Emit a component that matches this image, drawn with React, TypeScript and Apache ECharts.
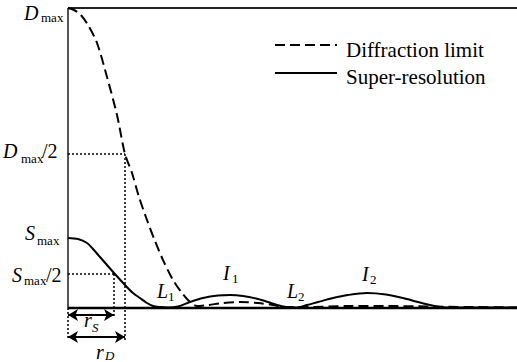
import React, { useEffect, useRef } from "react";
import * as echarts from "echarts";

// ---- data (x: radial position, y: intensity; baseline 0, D_max = 300) ----
const diffX = [0, 6, 12, 20, 29, 39, 49, 57, 64, 71, 79, 87, 95, 105, 114, 122, 129, 140, 155, 172, 190, 205, 215, 240, 280, 320, 360, 400, 449];
const diffY = [300, 298, 294, 283, 265, 231, 193, 154, 135, 111, 88, 67, 48, 28, 15, 6, 2, 3, 5, 6, 5, 3, 1, 1, 2, 2, 1.5, 1, 0.5];

const superX = [0, 10, 19, 25, 32, 39, 46, 57, 65, 72, 79, 85, 92, 100, 110, 122, 135, 150, 162, 175, 190, 200, 209, 218, 228, 239, 250, 265, 280, 299, 318, 335, 350, 362, 369, 380, 449];
const superY = [70, 69, 65, 59, 51, 43, 35, 23, 15, 10, 5, 2, 1, 0.5, 1.5, 6, 10, 12.5, 13, 12, 9, 6, 3, 1, 0.5, 3, 6, 10, 13, 15, 13.5, 10, 6, 3, 1.5, 0.5, 0.5];

const X_MAX = 449;
const Y_MAX = 300; // D_max
const Y_MIN = -54;
const D_HALF = 154;
const S_HALF = 34;
const R_S = 46;
const R_D = 57;
const ARROW_S_Y = -7;
const ARROW_D_Y = -29;

const FONT = "Liberation Serif, Times New Roman, DejaVu Serif, serif";

const zip = (xs: number[], ys: number[]) => xs.map((x, i) => [x, ys[i]]);

function txt(text: string, x: number, y: number, size: number, italic = false) {
  return {
    type: "text",
    x,
    y,
    z: 100,
    style: {
      text,
      fontSize: size,
      fontFamily: FONT,
      fontStyle: italic ? "italic" : "normal",
      fill: "#000",
      align: "left",
      verticalAlign: "middle",
    },
  };
}

function plainLine(name: string, data: number[][], color: string, width: number, type: any = "solid", z = 2) {
  return {
    name,
    type: "line",
    data,
    symbol: "none",
    silent: true,
    z,
    lineStyle: { color, width, type },
  };
}

export default function App() {
  const ref = useRef<HTMLDivElement>(null);
  useEffect(() => {
    if (!ref.current) return;
    const chart = echarts.init(ref.current, null, { renderer: "svg" });
    const option: any = {
      animation: false,
      backgroundColor: "#fff",
      textStyle: { fontFamily: FONT },
      grid: { left: 68, right: 0, top: 8, bottom: 0 },
      xAxis: { type: "value", min: 0, max: X_MAX, show: false },
      yAxis: { type: "value", min: Y_MIN, max: Y_MAX, show: false },
      series: [
        plainLine("leftAxis", [[0, 0], [0, Y_MAX]], "#555", 2, "solid", 1),
        plainLine("topBorder", [[0, Y_MAX], [X_MAX, Y_MAX]], "#222", 2, "solid", 1),
        plainLine("dHalfH", [[0, D_HALF], [R_D, D_HALF]], "#000", 1.5, [2, 2], 1),
        plainLine("dHalfV", [[R_D, D_HALF], [R_D, ARROW_D_Y - 3]], "#000", 1.5, [2, 2], 1),
        plainLine("sHalfH", [[0, S_HALF], [R_S, S_HALF]], "#000", 1.5, [2, 2], 1),
        plainLine("sHalfV", [[R_S, S_HALF], [R_S, ARROW_S_Y - 2]], "#000", 1.5, [2, 2], 1),
        plainLine("zeroV", [[0, 0], [0, ARROW_D_Y - 1]], "#000", 1.5, [2, 2], 1),
        {
          name: "Diffraction limit",
          type: "line",
          data: zip(diffX, diffY),
          symbol: "none",
          smooth: 0.3,
          z: 3,
          lineStyle: { color: "#000", width: 2, type: [10, 5] },
        },
        {
          name: "Super-resolution",
          type: "line",
          data: zip(superX, superY),
          symbol: "none",
          smooth: 0.3,
          z: 4,
          lineStyle: { color: "#000", width: 2, type: "solid" },
        },
        {
          name: "baseline",
          type: "line",
          data: [[0, 0], [X_MAX, 0]],
          symbol: "none",
          z: 5,
          lineStyle: { color: "#000", width: 2.5 },
          markLine: {
            silent: true,
            symbol: ["arrow", "arrow"],
            symbolSize: [9, 10],
            label: { show: false },
            lineStyle: { color: "#000", width: 2, type: "solid" },
            data: [
              [{ coord: [0, ARROW_S_Y] }, { coord: [R_S, ARROW_S_Y] }],
              [{ coord: [0, ARROW_D_Y] }, { coord: [R_D, ARROW_D_Y] }],
            ],
          },
        },
      ],
      graphic: [
        // legend
        { type: "line", z: 100, shape: { x1: 275, y1: 45, x2: 337, y2: 45 }, style: { stroke: "#000", lineWidth: 2, lineDash: [10, 5] } },
        { type: "line", z: 100, shape: { x1: 275, y1: 73, x2: 337, y2: 73 }, style: { stroke: "#000", lineWidth: 2 } },
        txt("Diffraction limit", 346, 50, 21),
        txt("Super-resolution", 346, 77, 21),
        // y labels
        txt("D", 24, 13.4, 20, true),
        txt("max", 41, 17.7, 13),
        txt("D", 3, 151.4, 20, true),
        txt("max", 21, 158.7, 13),
        txt("/2", 42, 151.4, 20),
        txt("S", 25, 233.4, 20, true),
        txt("max", 37, 240.7, 13),
        txt("S", 12, 275.4, 20, true),
        txt("max", 24, 280.7, 13),
        txt("/2", 46, 275.4, 20),
        // curve annotations
        txt("L", 157, 291.4, 20, true),
        txt("1", 168, 296.7, 13),
        txt("I", 223, 273.4, 20, true),
        txt("1", 232, 278.7, 13),
        txt("L", 287, 291.4, 20, true),
        txt("2", 298, 296.7, 13),
        txt("I", 362, 274.4, 20, true),
        txt("2", 370, 279.7, 13),
        // radii
        txt("r", 84, 320.4, 20, true),
        txt("S", 92, 327.7, 13, true),
        txt("r", 96, 351.5, 20, true),
        txt("D", 105, 355.5, 13, true),
      ],
    };
    chart.setOption(option);
    return () => chart.dispose();
  }, []);
  return (
    <div
      ref={ref}
      style={{ position: "absolute", left: 0, top: 0, width: 517, height: 362 }}
    />
  );
}
